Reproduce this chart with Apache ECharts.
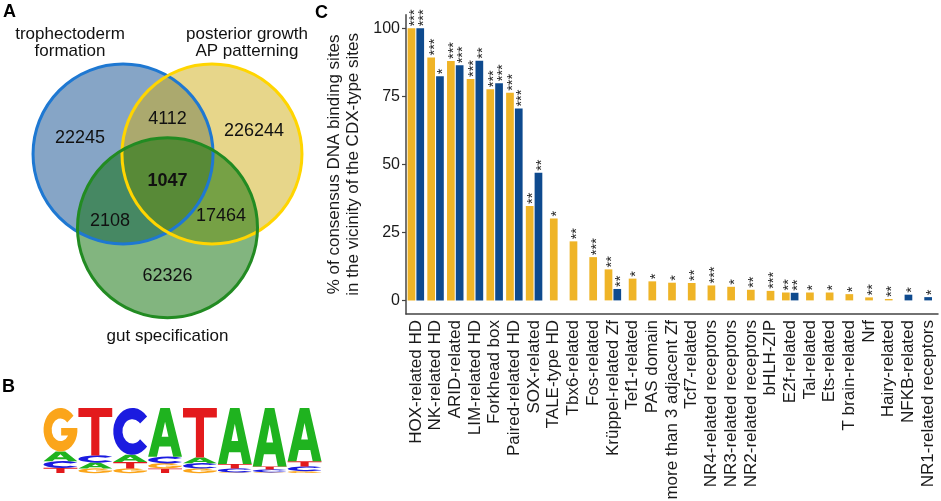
<!DOCTYPE html>
<html><head><meta charset="utf-8">
<script src="https://cdn.jsdelivr.net/npm/echarts@6/dist/echarts.min.js"></script>
<style>html,body{margin:0;padding:0;background:#fff}#c{width:941px;height:501px}</style>
</head><body><div id="c"></div>
<script>
// ---------- Panel C data ----------
const categories = ['HOX-related HD','NK-related HD','ARID-related','LIM-related HD','Forkhead box','Paired-related HD','SOX-related','TALE-type HD','Tbx6-related','Fos-related','Krüppel-related Zf','Tef1-related','PAS domain','more than 3 adjacent Zf','Tcf7-related','NR4-related receptors','NR3-related receptors','NR2-related receptors','bHLH-ZIP','E2f-related','Tal-related','Ets-related','T brain-related','Nrf','Hairy-related','NFKB-related','NR1-related receptors'];
const yellowValues = [100, 89.3, 88.0, 81.4, 77.6, 76.3, 34.7, 30.1, 21.7, 15.9, 11.4, 8.0, 7.0, 6.5, 6.4, 5.5, 5.0, 3.9, 3.5, 2.9, 2.9, 2.9, 2.3, 1.1, 0.5, null, null];
const blueValues   = [100, 82.4, 86.4, 88.1, 79.8, 70.5, 46.9, null, null, null, 4.2, null, null, null, null, null, null, null, null, 2.8, null, null, null, null, null, 2.1, 1.2];
const yellowStars  = ['***','***','***','***','***','***','**','*','**','***','**','*','*','*','**','***','*','**','***','**','*','*','*','**','**',null,null];
const blueStars    = ['***','*','***','**','***','***','**',null,null,null,'**',null,null,null,null,null,null,null,null,'**',null,null,null,null,null,'*','*'];
const yTicks = [0, 25, 50, 75, 100];

// ---------- Panel A data ----------
const vennSets = ['trophectoderm\nformation', 'posterior growth\nAP patterning', 'gut specification'];
const vennCounts = [22245, 4112, 226244, 1047, 2108, 17464, 62326];
// layout in circle-radius units
const vennCircles = [[-0.494, 0], [0.494, 0], [0, 0.82]];
const vennCountPos = [[-0.972,-0.178],[0,-0.389],[0.961,-0.256],[0,0.30],[-0.639,0.744],[0.594,0.689],[0,1.356]];
const vennSetPos = [[-1.083,-1.24],[0.883,-1.24],[0,2.022]];

// ---------- Panel B data ----------
const logoPositions = ['1','2','3','4','5','6','7','8'];
const logoA = [0.15, 0.09, 0.11, 0.75, 0.09, 0.86, 0.90, 0.82];
const logoC = [0.10, 0.11, 0.72, 0.10, 0.08, 0.06, 0.045, 0.07];
const logoG = [0.67, 0.07, 0.07, 0.08, 0.07, 0.01, 0.01, 0.03];
const logoT = [0.08, 0.73, 0.10, 0.07, 0.76, 0.07, 0.045, 0.08];

const FONT = "'Liberation Sans', Arial, Helvetica, sans-serif";
const YELLOW = '#efb427', BLUE = '#0e4a8e';
const vennFill = ['rgba(13,75,141,0.5)', 'rgba(207,173,21,0.5)', 'rgba(5,107,0,0.5)'];
const vennStroke = ['#1e78d2', '#ffd500', '#228b22'];

const glyphs = {
  A: 'M0,100 L36,0 L64,0 L100,100 L74,100 L67,79 L33,79 L26,100 Z M40,59 L60,59 L50,28 Z',
  T: 'M0,0 L100,0 L100,19 L62,19 L62,100 L38,100 L38,19 L0,19 Z',
  C: 'M88.3,17.9 A50,50 0 1 0 88.3,82.1 L69.9,66.7 A26,26 0 1 1 69.9,33.3 Z',
  G: 'M88.3,17.9 A50,50 0 1 0 99.75,55 L99.75,46 L52,46 L52,63 L72.5,63 A26,26 0 1 1 69.9,33.3 Z'
};
const glyphColor = { A: '#1fb31f', C: '#1b1be0', G: '#fba51a', T: '#e31a1c' };

const chart = echarts.init(document.getElementById('c'), null, { renderer: 'canvas' });

const pairYellow = categories.map((_, i) => (yellowValues[i] != null && blueValues[i] != null) ? yellowValues[i] : '-');
const pairBlue = categories.map((_, i) => (yellowValues[i] != null && blueValues[i] != null) ? blueValues[i] : '-');
const singles = categories.map((_, i) => {
  const y = yellowValues[i], b = blueValues[i];
  if (y != null && b == null) return { value: y, itemStyle: { color: YELLOW } };
  if (b != null && y == null) return { value: b, itemStyle: { color: BLUE } };
  return '-';
});

const starLabel = {
  show: true, position: 'top', rotate: 90, align: 'left', verticalAlign: 'middle',
  distance: 2, offset: [0, 3.5], fontSize: 14.5, color: '#2a2a2a', fontFamily: FONT
};

const option = {
  animation: false,
  backgroundColor: '#fff',
  graphic: [
    { type: 'text', left: 3, top: 3, style: { text: 'A', font: 'bold 18px ' + FONT, fill: '#000' } },
    { type: 'text', left: 2, top: 378, style: { text: 'B', font: 'bold 18px ' + FONT, fill: '#000' } },
    { type: 'text', left: 315, top: 4, style: { text: 'C', font: 'bold 18px ' + FONT, fill: '#000' } }
  ],
  grid: [
    { left: 0, top: 0, width: 335, height: 340, outerBoundsMode: 'none' },
    { left: 43, top: 408, width: 279, height: 65, outerBoundsMode: 'none' },
    { left: 406, right: 3, top: 14.7, bottom: 187, outerBoundsMode: 'none' }
  ],
  xAxis: [
    { type: 'value', gridIndex: 0, min: -1.861, max: 1.861, show: false },
    { type: 'category', gridIndex: 1, data: logoPositions, show: false },
    { type: 'category', gridIndex: 2, data: categories,
      axisLine: { onZero: false, lineStyle: { color: '#444', width: 1.5 } },
      axisTick: { alignWithLabel: true, length: 4, lineStyle: { color: '#444', width: 1.2 } },
      axisLabel: { interval: 0, rotate: 90, fontSize: 17, margin: 6, color: '#1a1a1a', fontFamily: FONT },
      splitLine: { show: false } },
    { type: 'category', gridIndex: 2, data: categories, show: false }
  ],
  yAxis: [
    { type: 'value', gridIndex: 0, min: -1.711, max: 2.067, inverse: true, show: false },
    { type: 'value', gridIndex: 1, min: 0, max: 1, show: false },
    { type: 'value', gridIndex: 2, min: -5, max: 105,
      name: '% of consensus DNA binding sites\nin the vicinity of the CDX-type sites',
      nameLocation: 'middle', nameGap: 34, nameRotate: 90,
      nameTextStyle: { fontSize: 17, lineHeight: 18.5, color: '#1a1a1a', fontFamily: FONT },
      axisLine: { show: true, lineStyle: { color: '#444', width: 1.5 } },
      axisTick: { show: true, length: 4, customValues: yTicks, lineStyle: { color: '#444', width: 1.2 } },
      axisLabel: { customValues: yTicks, fontSize: 16, margin: 6, color: '#1a1a1a', fontFamily: FONT },
      splitLine: { show: false } }
  ],
  series: [
    { type: 'custom', xAxisIndex: 0, yAxisIndex: 0, silent: true,
      data: vennCircles.map((c, i) => [c[0], c[1], i]),
      renderItem: (params, api) => {
        const p = api.coord([api.value(0), api.value(1)]);
        const r = api.size([1, 1])[0];
        return { type: 'circle', shape: { cx: p[0], cy: p[1], r: r }, style: { fill: vennFill[params.dataIndex] } };
      } },
    { type: 'custom', xAxisIndex: 0, yAxisIndex: 0, silent: true, z: 3,
      data: vennCircles.map((c, i) => [c[0], c[1], i]),
      renderItem: (params, api) => {
        const p = api.coord([api.value(0), api.value(1)]);
        const r = api.size([1, 1])[0];
        return { type: 'circle', shape: { cx: p[0], cy: p[1], r: r }, style: { fill: 'none', stroke: vennStroke[params.dataIndex], lineWidth: 3 } };
      } },
    { type: 'custom', xAxisIndex: 0, yAxisIndex: 0, silent: true, z: 4,
      data: vennCountPos,
      renderItem: (params, api) => {
        const p = api.coord([api.value(0), api.value(1)]);
        const i = params.dataIndex;
        return { type: 'text', x: p[0], y: p[1], style: { text: String(vennCounts[i]), align: 'center', verticalAlign: 'middle',
          fontSize: 18, fontFamily: FONT, fontWeight: i === 3 ? 'bold' : 'normal', fill: '#111' } };
      } },
    { type: 'custom', xAxisIndex: 0, yAxisIndex: 0, silent: true, z: 4,
      data: vennSetPos,
      renderItem: (params, api) => {
        const p = api.coord([api.value(0), api.value(1)]);
        return { type: 'text', x: p[0], y: p[1], style: { text: vennSets[params.dataIndex], align: 'center', verticalAlign: 'middle',
          fontSize: 17, lineHeight: 17, fontFamily: FONT, fill: '#111' } };
      } },
    { type: 'custom', xAxisIndex: 1, yAxisIndex: 1, silent: true,
      data: logoPositions.map((_, i) => [i, logoA[i], logoC[i], logoG[i], logoT[i]]),
      renderItem: (params, api) => {
        const idx = api.value(0);
        const letters = [['A', api.value(1)], ['C', api.value(2)], ['G', api.value(3)], ['T', api.value(4)]]
          .sort((a, b) => a[1] - b[1]);
        const w = api.size([1, 0])[0] * 0.97;
        let y0 = 0;
        const children = [];
        letters.forEach(([l, v]) => {
          const bot = api.coord([idx, y0]);
          const top = api.coord([idx, y0 + v]);
          y0 += v;
          const h = bot[1] - top[1];
          if (h < 0.4) return;
          children.push({ type: 'path', shape: { pathData: glyphs[l], x: bot[0] - w / 2, y: top[1], width: w, height: h, layout: 'cover' },
            style: { fill: glyphColor[l] } });
        });
        return { type: 'group', children };
      } },
    { type: 'bar', name: 'yellow', xAxisIndex: 2, yAxisIndex: 2, data: pairYellow, barWidth: 7.7, barGap: '14%',
      itemStyle: { color: YELLOW },
      label: Object.assign({}, starLabel, { formatter: p => yellowStars[p.dataIndex] || '' }) },
    { type: 'bar', name: 'blue', xAxisIndex: 2, yAxisIndex: 2, data: pairBlue, barWidth: 7.7, barGap: '14%',
      itemStyle: { color: BLUE },
      label: Object.assign({}, starLabel, { formatter: p => blueStars[p.dataIndex] || '' }) },
    { type: 'bar', name: 'single', xAxisIndex: 3, yAxisIndex: 2, data: singles, barWidth: 7.7,
      label: Object.assign({}, starLabel, { formatter: p => (yellowValues[p.dataIndex] != null ? yellowStars : blueStars)[p.dataIndex] || '' }) }
  ]
};
chart.setOption(option);
</script></body></html>
